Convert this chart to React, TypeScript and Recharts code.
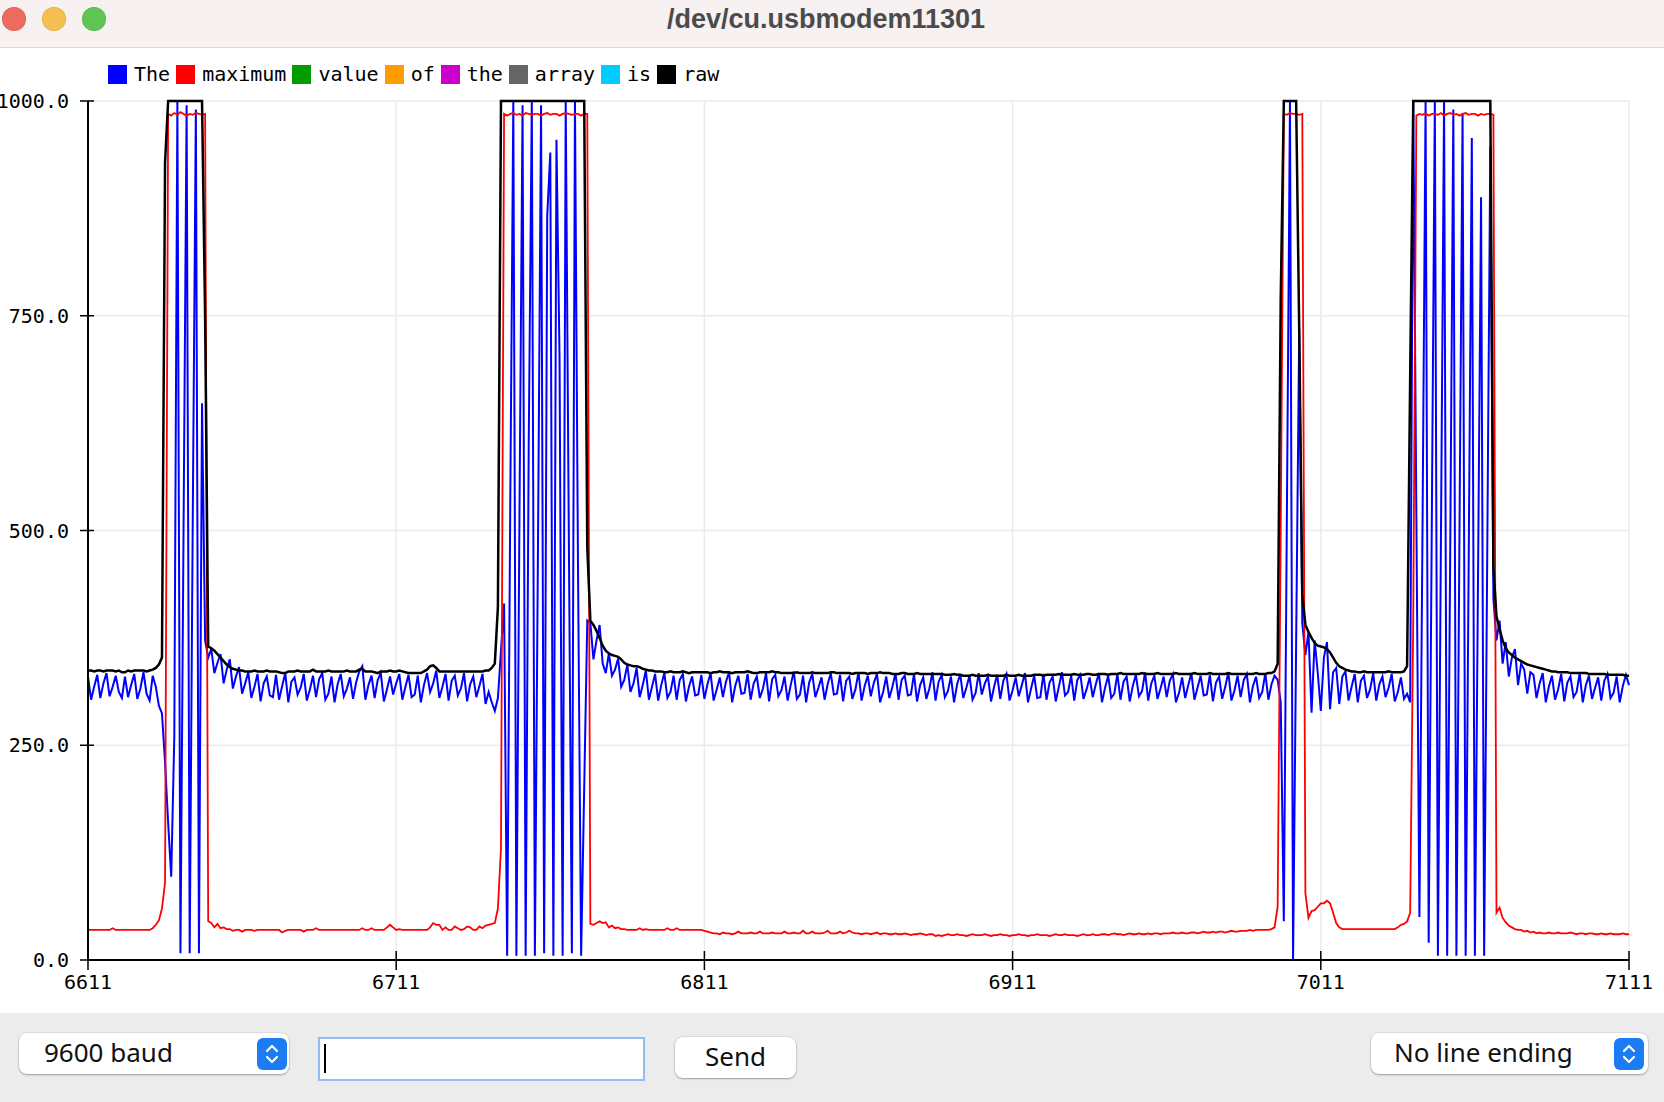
import { LineChart, Line, XAxis, YAxis, CartesianGrid } from 'recharts';

// serial plotter window: 500 samples, index 0 = 6611
const firstSample = 6611;
const xTicks = [6611, 6711, 6811, 6911, 7011, 7111];
const yTicks = [0, 250, 500, 750, 1000];

const legendLabels = ['The', 'maximum', 'value', 'of', 'the', 'array', 'is', 'raw'];
const legendColors = ['#0000ff', '#ff0000', '#009c00', '#ff9c00', '#cc00cc', '#666666', '#00ccff', '#000000'];

// "The" (blue)
const theValues = [
  330, 303, 318, 332, 305, 322, 334, 307, 318, 331, 312, 305, 330, 306, 320, 333, 304, 316, 335, 310, 302, 331, 318, 296, 287,
  230, 160, 97, 260, 1000, 8, 500, 995, 8, 520, 990, 8, 648, 372, 352, 362, 334, 346, 356, 322, 338, 350, 316, 330, 341,
  310, 322, 335, 305, 318, 333, 301, 322, 330, 308, 306, 332, 303, 319, 334, 300, 324, 329, 309, 317, 333, 302, 315, 331, 306,
  327, 334, 303, 310, 330, 300, 321, 333, 307, 316, 329, 304, 323, 336, 342, 303, 320, 331, 305, 326, 334, 301, 315, 330, 309,
  322, 333, 303, 318, 332, 306, 309, 331, 300, 320, 334, 312, 322, 337, 305, 318, 333, 302, 325, 331, 308, 316, 334, 301, 321,
  330, 306, 319, 333, 298, 312, 300, 290, 305, 360, 415, 5, 526, 1000, 5, 520, 995, 5, 600, 1000, 5, 480, 995, 8, 866,
  940, 5, 955, 700, 5, 1000, 500, 8, 1000, 450, 5, 200, 395, 392, 350, 372, 390, 345, 334, 357, 331, 338, 351, 318, 326,
  344, 312, 322, 340, 306, 320, 337, 303, 318, 333, 302, 320, 334, 305, 312, 331, 303, 326, 333, 301, 318, 330, 308, 309, 332,
  304, 321, 334, 302, 315, 329, 306, 324, 335, 300, 319, 331, 310, 311, 333, 303, 322, 330, 305, 316, 334, 301, 327, 332, 307,
  314, 330, 302, 320, 336, 304, 309, 331, 300, 323, 333, 306, 317, 329, 303, 321, 334, 309, 310, 332, 301, 325, 330, 304, 315,
  335, 302, 319, 331, 307, 323, 333, 300, 312, 330, 305, 318, 334, 303, 326, 331, 308, 309, 333, 301, 320, 329, 304, 316, 335,
  302, 324, 332, 306, 313, 330, 300, 321, 333, 305, 317, 331, 303, 311, 334, 309, 322, 330, 301, 318, 332, 304, 325, 333, 302,
  314, 329, 307, 320, 334, 300, 316, 331, 305, 306, 333, 303, 323, 330, 301, 318, 335, 308, 312, 331, 302, 326, 332, 304, 315,
  329, 306, 321, 334, 300, 317, 331, 305, 310, 333, 303, 324, 330, 301, 319, 332, 307, 313, 335, 302, 322, 331, 304, 316, 330,
  306, 325, 333, 300, 311, 329, 305, 320, 334, 303, 317, 331, 308, 309, 332, 301, 323, 330, 304, 318, 335, 302, 314, 331, 306,
  326, 333, 300, 319, 330, 305, 312, 334, 303, 321, 331, 326, 300, 45, 520, 1000, 0, 370, 735, 392, 355, 382, 288, 372, 335,
  290, 352, 370, 292, 335, 340, 298, 330, 336, 302, 318, 333, 300, 325, 331, 305, 315, 334, 302, 321, 330, 306, 317, 333, 301,
  312, 329, 304, 310, 300, 1000, 520, 50, 500, 1000, 20, 500, 1000, 5, 500, 1000, 5, 480, 990, 5, 500, 985, 5, 470, 957,
  5, 440, 888, 5, 470, 947, 421, 372, 395, 345, 370, 330, 352, 362, 320, 345, 338, 310, 335, 332, 305, 322, 334, 300, 318,
  331, 303, 315, 333, 301, 323, 330, 306, 312, 334, 300, 320, 331, 304, 317, 329, 302, 325, 333, 305, 311, 330, 300, 319, 332,
  320,
];

// "maximum" (red)
const maximumValues = [
  35, 35, 35, 35, 35, 35, 35, 35, 37, 35, 35, 35, 35, 35, 35, 35, 35, 35, 35, 35, 35, 37, 41, 46, 60,
  90, 985, 983, 986, 984, 987, 985, 983, 985, 984, 986, 985, 984, 985, 45, 43, 38, 42, 37, 38, 36, 36, 34, 35, 35,
  33, 35, 35, 35, 34, 35, 35, 35, 35, 35, 35, 35, 35, 32, 34, 35, 35, 35, 35, 35, 33, 35, 35, 35, 37,
  35, 35, 35, 35, 35, 35, 35, 35, 35, 35, 35, 35, 35, 35, 37, 35, 35, 37, 35, 35, 35, 35, 38, 41, 38,
  35, 36, 35, 35, 35, 35, 35, 35, 35, 35, 35, 38, 43, 41, 41, 35, 38, 35, 35, 39, 37, 35, 36, 39, 38,
  35, 35, 39, 37, 40, 41, 42, 43, 60, 130, 985, 983, 985, 986, 984, 985, 983, 986, 985, 984, 985, 985, 983, 985, 986,
  984, 985, 985, 983, 985, 986, 985, 984, 985, 985, 983, 985, 985, 42, 41, 43, 45, 43, 44, 38, 40, 37, 38, 36, 36,
  35, 35, 35, 35, 37, 35, 36, 35, 35, 35, 35, 35, 35, 37, 35, 35, 37, 35, 35, 35, 35, 35, 35, 35, 35,
  34, 33, 32, 31, 31, 30, 32, 31, 31, 30, 31, 33, 31, 31, 31, 32, 31, 31, 33, 31, 31, 31, 32, 31, 31,
  31, 33, 31, 31, 32, 31, 31, 34, 31, 31, 33, 31, 31, 31, 32, 34, 31, 31, 31, 33, 31, 32, 34, 32, 31,
  31, 30, 31, 31, 30, 31, 32, 30, 31, 31, 30, 30, 31, 30, 30, 31, 30, 29, 30, 30, 31, 30, 29, 30, 30,
  28, 29, 28, 29, 30, 29, 29, 30, 29, 29, 28, 29, 30, 29, 29, 29, 30, 29, 28, 29, 29, 30, 29, 29, 28,
  29, 29, 30, 29, 29, 28, 29, 29, 30, 29, 29, 29, 28, 29, 30, 29, 29, 30, 29, 29, 29, 28, 29, 30, 29,
  29, 30, 29, 29, 30, 30, 29, 30, 31, 30, 30, 29, 30, 31, 30, 30, 31, 30, 30, 31, 30, 31, 31, 30, 31,
  31, 31, 32, 31, 31, 32, 31, 31, 32, 32, 31, 32, 33, 32, 32, 33, 32, 33, 33, 32, 33, 34, 33, 33, 34,
  34, 34, 35, 34, 35, 35, 35, 35, 35, 36, 38, 62, 500, 985, 984, 986, 985, 985, 984, 985, 78, 49, 57, 58, 62,
  66, 66, 69, 66, 55, 43, 38, 36, 36, 36, 36, 36, 36, 36, 36, 36, 36, 36, 36, 36, 36, 36, 36, 36, 36,
  38, 41, 42, 45, 55, 400, 983, 985, 984, 986, 983, 985, 985, 984, 986, 983, 985, 986, 984, 985, 983, 985, 986, 984, 985,
  985, 983, 985, 984, 985, 985, 984, 55, 61, 49, 44, 40, 38, 36, 35, 35, 33, 34, 32, 33, 31, 32, 31, 31, 32,
  31, 31, 32, 31, 31, 31, 32, 31, 30, 31, 31, 30, 31, 31, 30, 30, 31, 30, 30, 31, 30, 30, 30, 31, 30,
  30,
];

// "raw" (black)
const rawValues = [
  337, 337, 336, 337, 337, 336, 337, 337, 337, 336, 337, 335, 335, 337, 336, 337, 337, 337, 337, 336, 337, 338, 340, 344, 352,
  928, 1000, 1000, 1000, 1000, 1000, 1000, 1000, 1000, 1000, 1000, 1000, 1000, 750, 365, 363, 360, 356, 352, 348, 344, 341, 339, 338, 337,
  337, 336, 336, 336, 337, 336, 336, 336, 337, 336, 336, 336, 335, 334, 334, 336, 336, 336, 337, 336, 336, 336, 336, 338, 336,
  336, 336, 336, 337, 336, 336, 336, 336, 336, 337, 336, 336, 336, 338, 339, 336, 336, 336, 335, 334, 336, 336, 336, 337, 336,
  336, 337, 336, 335, 334, 334, 334, 334, 334, 336, 338, 342, 343, 340, 336, 336, 336, 336, 336, 336, 336, 336, 336, 336, 336,
  336, 336, 336, 336, 337, 337, 340, 345, 411, 1000, 1000, 1000, 1000, 1000, 1000, 1000, 1000, 1000, 1000, 1000, 1000, 1000, 1000, 1000, 1000,
  1000, 1000, 1000, 1000, 1000, 1000, 1000, 1000, 1000, 1000, 1000, 1000, 480, 395, 390, 383, 375, 366, 360, 357, 355, 354, 353, 350, 346,
  344, 343, 342, 342, 341, 339, 338, 337, 337, 336, 336, 336, 335, 335, 336, 335, 335, 335, 336, 335, 334, 335, 335, 335, 335,
  335, 335, 334, 335, 335, 336, 335, 335, 335, 334, 335, 335, 335, 335, 336, 335, 334, 334, 335, 335, 335, 335, 336, 335, 335,
  334, 334, 334, 334, 334, 335, 334, 334, 334, 334, 335, 334, 334, 334, 334, 334, 335, 335, 334, 334, 334, 334, 334, 333, 334,
  334, 334, 334, 333, 334, 334, 334, 335, 334, 334, 334, 333, 333, 333, 334, 334, 333, 333, 333, 334, 333, 333, 333, 333, 333,
  333, 333, 333, 332, 332, 332, 333, 332, 332, 331, 331, 331, 332, 331, 331, 331, 331, 332, 331, 331, 331, 331, 331, 332, 331,
  331, 331, 332, 331, 331, 331, 331, 332, 332, 332, 331, 332, 332, 332, 332, 333, 332, 332, 332, 332, 333, 332, 332, 332, 333,
  333, 332, 332, 333, 333, 333, 332, 333, 333, 333, 334, 333, 333, 333, 333, 333, 333, 334, 333, 333, 333, 333, 334, 333, 333,
  333, 333, 333, 334, 333, 333, 333, 333, 333, 334, 333, 333, 333, 333, 334, 333, 333, 333, 333, 333, 334, 333, 333, 333, 333,
  333, 333, 333, 333, 334, 333, 333, 333, 334, 334, 336, 345, 770, 1000, 1000, 1000, 1000, 1000, 732, 425, 390, 382, 375, 369, 366,
  365, 364, 362, 358, 352, 346, 342, 340, 338, 337, 336, 336, 335, 335, 336, 335, 335, 335, 335, 335, 335, 335, 336, 335, 335,
  335, 335, 336, 342, 680, 1000, 1000, 1000, 1000, 1000, 1000, 1000, 1000, 1000, 1000, 1000, 1000, 1000, 1000, 1000, 1000, 1000, 1000, 1000, 1000,
  1000, 1000, 1000, 1000, 1000, 1000, 457, 400, 385, 372, 363, 358, 355, 352, 350, 348, 346, 344, 343, 342, 341, 340, 339, 338, 337,
  336, 336, 335, 335, 335, 335, 334, 334, 334, 334, 334, 334, 333, 333, 333, 333, 333, 333, 332, 332, 332, 332, 332, 332, 331,
  331,
];

const rows = theValues.map((v, i) => ({
  x: firstSample + i,
  the: v,
  maximum: maximumValues[i],
  raw: rawValues[i],
}));

const mono = '"DejaVu Sans Mono", "Liberation Mono", monospace';
const sans = '"Noto Sans", "Liberation Sans", sans-serif';

function XTick({ x, y, payload }: any) {
  return (
    <g>
      <line x1={x} x2={x} y1={y - 9} y2={y + 10} stroke="#000" strokeWidth={1.5} />
      <text x={x} y={y + 29} textAnchor="middle" fontFamily={mono} fontSize={20} fill="#000">
        {payload.value}
      </text>
    </g>
  );
}

function YTick({ x, y, payload }: any) {
  return (
    <g>
      <line x1={x - 8} x2={x + 6} y1={y} y2={y} stroke="#000" strokeWidth={1.5} />
      <text x={x - 19} y={y + 7} textAnchor="end" fontFamily={mono} fontSize={20} fill="#000">
        {Number(payload.value).toFixed(1)}
      </text>
    </g>
  );
}

function Stepper({ left, top }: { left: number; top: number }) {
  return (
    <div style={{ position: 'absolute', left, top, width: 30, height: 32, borderRadius: 6, background: '#1b7cf4' }}>
      <svg width={30} height={32} style={{ display: 'block' }}>
        <polyline points="10,13 15,8 20,13" fill="none" stroke="#fff" strokeWidth={2.2} strokeLinecap="round" strokeLinejoin="round" />
        <polyline points="10,19 15,24 20,19" fill="none" stroke="#fff" strokeWidth={2.2} strokeLinecap="round" strokeLinejoin="round" />
      </svg>
    </div>
  );
}

const boxStyle = {
  position: 'absolute' as const,
  background: '#fff',
  borderRadius: 8,
  boxShadow: '0 1px 2px rgba(0,0,0,0.3), 0 0 0 0.5px rgba(0,0,0,0.12)',
  fontFamily: sans,
  fontSize: 26,
  color: '#111',
  display: 'flex',
  alignItems: 'center',
  boxSizing: 'border-box' as const,
  paddingBottom: 4,
};

export default function App() {
  return (
    <div
      style={{
        position: 'absolute',
        left: 0,
        top: 0,
        width: 1664,
        height: 1102,
        overflow: 'hidden',
        background: '#fff',
      }}
    >
      <LineChart
        width={1664}
        height={1013}
        data={rows}
        margin={{ top: 101, right: 35, bottom: 0, left: 0 }}
        style={{ position: 'absolute', left: 0, top: 0 }}
      >
        <CartesianGrid stroke="#ebebeb" strokeWidth={1.5} />
        <XAxis
          dataKey="x"
          type="number"
          domain={[6611, 7111]}
          ticks={xTicks}
          interval={0}
          height={53}
          tickSize={0}
          tickMargin={0}
          tickLine={false}
          axisLine={{ stroke: '#000', strokeWidth: 2 }}
          tick={(p: any) => <XTick {...p} />}
        />
        <YAxis
          type="number"
          domain={[0, 1000]}
          ticks={yTicks}
          interval={0}
          width={88}
          tickSize={0}
          tickMargin={0}
          tickLine={false}
          axisLine={{ stroke: '#000', strokeWidth: 2 }}
          tick={(p: any) => <YTick {...p} />}
        />
        <Line type="linear" dataKey="the" stroke="#0000ff" strokeWidth={2} dot={false} isAnimationActive={false} />
        <Line type="linear" dataKey="maximum" stroke="#ff0000" strokeWidth={1.8} dot={false} isAnimationActive={false} />
        <Line type="linear" dataKey="raw" stroke="#000000" strokeWidth={2.5} dot={false} isAnimationActive={false} />
      </LineChart>

      {/* legend */}
      <div
        style={{
          position: 'absolute',
          left: 108,
          top: 64,
          height: 21,
          display: 'flex',
          alignItems: 'center',
          fontFamily: mono,
          fontSize: 20,
          color: '#000',
          whiteSpace: 'pre',
        }}
      >
        {legendLabels.map((label, i) => (
          <div key={label + i} style={{ display: 'flex', alignItems: 'center', marginRight: 6 }}>
            <div style={{ width: 19, height: 19, background: legendColors[i], marginRight: 7 }} />
            <span style={{ lineHeight: '21px' }}>{label}</span>
          </div>
        ))}
      </div>

      {/* title bar */}
      <div
        style={{
          position: 'absolute',
          left: 0,
          top: 0,
          width: 1664,
          height: 47,
          background: '#f7f1f1',
          borderBottom: '1px solid #dcd6d6',
        }}
      >
        {['#ed6a5e', '#f5bf4f', '#61c554'].map((c, i) => (
          <div
            key={c}
            style={{
              position: 'absolute',
              left: 2 + i * 40,
              top: 7,
              width: 24,
              height: 24,
              borderRadius: 12,
              background: c,
              boxShadow: 'inset 0 0 0 0.5px rgba(0,0,0,0.15)',
            }}
          />
        ))}
        <div
          style={{
            position: 'absolute',
            left: 0,
            width: 1652,
            top: 0,
            height: 39,
            lineHeight: '39px',
            textAlign: 'center',
            fontFamily: '"Liberation Sans", Arial, sans-serif',
            fontWeight: 700,
            fontSize: 27,
            color: '#4b4b4b',
          }}
        >
          /dev/cu.usbmodem11301
        </div>
      </div>

      {/* bottom control bar */}
      <div style={{ position: 'absolute', left: 0, top: 1013, width: 1664, height: 89, background: '#ececec' }} />

      <div style={{ ...boxStyle, left: 19, top: 1033, width: 270, height: 41, paddingLeft: 25 }}>9600 baud</div>
      <Stepper left={257} top={1038} />

      <div
        style={{
          position: 'absolute',
          left: 318,
          top: 1037,
          width: 327,
          height: 44,
          background: '#fff',
          border: '2px solid #93bcef',
          boxSizing: 'border-box',
        }}
      >
        <div style={{ position: 'absolute', left: 4, top: 5, width: 1.5, height: 29, background: '#000' }} />
      </div>

      <div style={{ ...boxStyle, left: 675, top: 1037, width: 121, height: 41, justifyContent: 'center' }}>Send</div>

      <div style={{ ...boxStyle, left: 1371, top: 1033, width: 277, height: 41, paddingLeft: 23 }}>No line ending</div>
      <Stepper left={1614} top={1038} />
    </div>
  );
}
